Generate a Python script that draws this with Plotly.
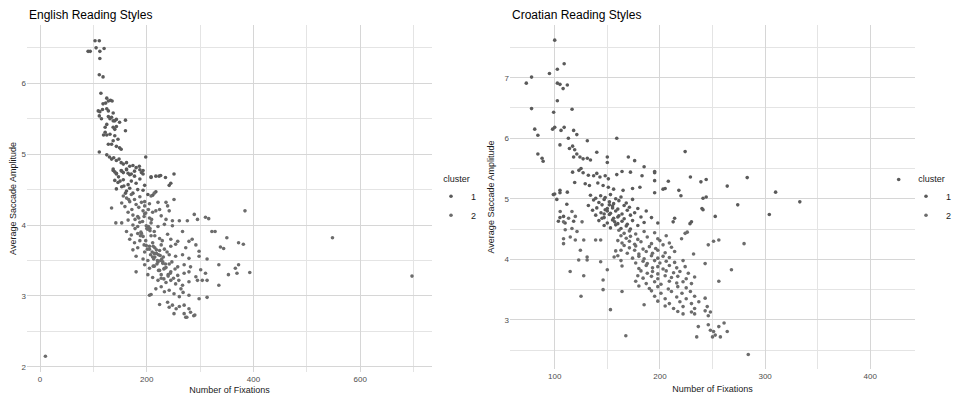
import plotly.graph_objects as go

# ---------------- English reading styles ----------------
en1_x = [90, 103, 111, 94, 105, 112, 120, 112, 111, 118, 114,
         125, 128, 132, 135, 118, 123,
         109, 112, 117, 125, 128, 137, 111, 115,
         128, 131, 134, 137, 140, 143, 149, 160,
         125, 122, 137, 140, 143, 160,
         122, 125, 119, 131, 140, 146, 137,
         128, 134, 143, 149, 152, 111,
         125, 130, 134, 138, 143, 148, 152, 156, 162, 168, 174, 180, 186, 198,
         137, 140, 143, 152, 156, 162, 165, 171, 177, 190, 193,
         208, 217, 223, 226, 235, 251,
         137, 143, 153, 162, 168, 177, 187, 193,
         140, 146, 156, 165, 171, 180, 187, 196, 208, 245, 242,
         143, 153, 162, 168, 174, 183, 193, 202, 211, 217,
         160, 157, 150, 147]
en1_y = [6.45, 6.6, 6.6, 6.45, 6.5, 6.45, 6.49, 6.35, 6.12, 6.09, 5.86,
         5.79, 5.75, 5.76, 5.75, 5.71, 5.72,
         5.61, 5.6, 5.63, 5.64, 5.61, 5.58, 5.54, 5.5,
         5.53, 5.5, 5.52, 5.47, 5.47, 5.49, 5.45, 5.48,
         5.42, 5.38, 5.38, 5.35, 5.39, 5.33,
         5.31, 5.27, 5.27, 5.28, 5.26, 5.21, 5.19,
         5.14, 5.14, 5.11, 5.09, 5.07, 5.03,
         4.99, 4.96, 4.93, 4.95, 4.91, 4.93, 4.88, 4.86, 4.88, 4.83, 4.84, 4.81, 4.83, 4.96,
         4.79, 4.75, 4.72, 4.77, 4.74, 4.78, 4.73, 4.72, 4.69, 4.74, 4.77,
         4.67, 4.69, 4.69, 4.7, 4.67, 4.72,
         4.77, 4.73, 4.76, 4.79, 4.71, 4.76, 4.78, 4.72,
         4.63, 4.6, 4.64, 4.57, 4.62, 4.59, 4.65, 4.56, 4.68, 4.59, 4.56,
         4.51, 4.54, 4.48, 4.52, 4.45, 4.5, 4.49, 4.43, 4.42, 4.47,
         4.45, 4.55, 4.62, 4.68]

en2_x = [156, 162, 171, 177, 187, 196, 208, 214, 251, 236, 239,
         134, 153, 159, 168, 180, 190, 196, 205, 217, 224, 242, 221, 193,
         165, 174, 183, 196, 205, 211, 227, 236, 248, 261, 276, 289, 295, 310, 316, 384,
         153, 165, 174, 187, 199, 208, 221, 233, 248, 267, 214, 202, 142,
         162, 171, 183, 193, 208, 224, 239, 245, 258, 279, 285, 322, 328, 350, 372, 381,
         168, 177, 187, 199, 211, 227, 245, 254, 273, 292, 298, 338, 344,
         174, 183, 196, 205, 214, 224, 233, 242, 254, 267, 279, 298, 313, 335, 366, 372, 393,
         180, 193, 202, 211, 221, 230, 242, 258, 270, 282, 353, 369,
         180, 196, 205, 214, 224, 233, 245, 258, 270, 279, 292, 301, 310, 335,
         202, 211, 221, 227, 236, 245, 254, 267, 279, 295, 304, 313,
         205, 208, 217, 227, 233, 242, 251, 261, 279, 298, 313,
         224, 239, 242, 248, 255, 261, 270, 279, 282, 288, 251, 273, 275, 290, 270,
         215, 220, 225, 230, 210, 218, 228, 235, 212, 222, 232, 240, 205, 215,
         190, 198, 206, 185, 195, 203, 178, 188,
         185, 192, 200, 206, 212, 218, 222, 226, 231, 236, 240, 244, 250,
         198, 203, 209, 215, 229, 238, 247, 253, 260, 264, 268, 227, 232,
         219, 213, 207, 201, 195, 189, 183, 178, 172, 166,
         548, 697, 10]
en2_y = [4.41, 4.38, 4.43, 4.36, 4.4, 4.33, 4.41, 4.45, 4.36, 4.32, 4.27,
         4.24, 4.31, 4.26, 4.33, 4.29, 4.32, 4.27, 4.3, 4.2, 4.22, 4.2, 4.32, 4.2,
         4.18, 4.14, 4.12, 4.16, 4.1, 4.18, 4.13, 4.08, 4.06, 4.06, 4.06, 4.15, 4.08, 4.11, 4.09, 4.2,
         4.03, 4.07, 4.0, 4.04, 3.99, 4.03, 3.98, 4.01, 3.99, 3.91, 3.91, 3.94, 4.03,
         3.91, 3.86, 3.88, 3.84, 3.85, 3.81, 3.87, 3.8, 3.77, 3.77, 3.8, 3.91, 3.91, 3.82, 3.75, 3.73,
         3.8, 3.75, 3.78, 3.71, 3.75, 3.72, 3.7, 3.73, 3.68, 3.72, 3.63, 3.69, 3.67,
         3.65, 3.68, 3.62, 3.66, 3.6, 3.64, 3.66, 3.58, 3.56, 3.58, 3.53, 3.56, 3.52, 3.44, 3.39, 3.44, 3.33,
         3.56, 3.52, 3.5, 3.55, 3.48, 3.46, 3.45, 3.41, 3.44, 3.41, 3.3, 3.32,
         3.34, 3.44, 3.39, 3.42, 3.36, 3.39, 3.34, 3.29, 3.32, 3.34, 3.27, 3.37, 3.32, 3.15,
         3.3, 3.26, 3.22, 3.25, 3.19, 3.22, 3.17, 3.15, 3.2, 3.22, 3.22, 3.22,
         3.01, 3.02, 3.1, 3.13, 3.06, 3.08, 3.03, 2.99, 3.01, 2.96, 2.98,
         2.88, 2.91, 2.84, 2.87, 2.82, 2.85, 2.87, 2.82, 2.77, 2.72, 2.75, 2.7, 2.7, 2.73, 2.75,
         3.55, 3.5, 3.57, 3.48, 3.62, 3.6, 3.52, 3.45, 3.42, 3.36, 3.38, 3.3, 3.7, 3.68,
         3.88, 3.78, 3.95, 4.1, 4.12, 3.98, 3.95, 3.85,
         4.25, 4.05, 3.95, 3.92, 3.7, 3.65, 3.58, 3.5, 3.55, 3.4, 3.28, 3.32, 3.25,
         4.17, 4.22, 4.08, 3.85, 3.78, 3.62, 3.48, 3.38, 3.22, 3.1, 3.05, 3.3, 3.24,
         3.45, 3.52, 3.58, 3.66, 3.72, 3.9, 3.98, 4.08, 4.22, 4.36,
         3.82, 3.28, 2.15]

# ---------------- Croatian reading styles ----------------
hr1_x = [100, 109, 102.5, 95, 78, 73, 102.5, 105, 108, 112, 102.5, 78, 99, 116.5,
         81, 84, 98, 100, 106, 109, 118, 121, 131, 159, 105, 113, 117, 119, 114,
         84, 88, 89, 121, 124, 127, 131, 118, 134, 140, 150, 150, 170, 176, 185,
         125, 123, 117, 127, 132, 137, 140, 143, 148, 151, 159, 164, 172, 183, 195,
         119, 129, 133, 141, 146, 151, 156, 165, 174, 181, 195, 195, 205, 100, 105, 112,
         427, 310, 283, 264, 244, 239, 229, 224, 218, 220, 208, 203, 195,
         333, 304, 274, 244, 240,
         98.7, 102, 105, 108.4, 111.5, 103.5, 109.9, 118, 105,
         134, 139, 143.7, 148, 153, 158, 163,
         137, 142, 147, 152, 156, 161, 168, 174,
         132, 140, 145, 150, 155, 160, 166, 171, 179,
         136, 144, 148, 153, 158, 164, 169, 176, 187,
         139, 147, 152, 156, 161, 166, 172, 182, 192,
         142, 150, 155, 160, 164, 169, 174, 185, 198,
         147, 153, 158, 163, 168, 172, 179,
         150, 155, 147, 160, 152, 157, 145,
         241, 252.6, 230, 228.6, 214, 212.6, 241]
hr1_y = [7.62, 7.23, 7.14, 7.07, 7.01, 6.91, 6.91, 6.89, 6.82, 6.88, 6.62, 6.49, 6.43, 6.48,
         6.15, 6.05, 6.15, 6.18, 6.13, 6.18, 6.13, 6.06, 5.96, 6.0, 5.89, 6.0, 5.87, 5.81, 5.83,
         5.74, 5.67, 5.62, 5.74, 5.69, 5.66, 5.67, 5.69, 5.64, 5.77, 5.69, 5.6, 5.69, 5.63, 5.53,
         5.5, 5.47, 5.44, 5.43, 5.39, 5.38, 5.42, 5.36, 5.38, 5.33, 5.4, 5.45, 5.44, 5.38, 5.43,
         5.27, 5.25, 5.22, 5.26, 5.22, 5.19, 5.16, 5.14, 5.17, 5.19, 5.3, 5.1, 5.17, 5.08, 5.14, 5.11,
         5.32, 5.11, 5.35, 5.21, 5.32, 5.28, 5.36, 5.78, 5.14, 5.05, 5.29, 5.16, 5.45,
         4.95, 4.74, 4.9, 5.03, 4.84,
         5.07, 4.99, 5.1, 4.71, 4.91, 4.63, 4.6, 4.63, 4.69,
         5.06, 5.01, 5.05, 5.02, 5.07, 5.0, 5.03,
         4.98, 4.94, 4.99, 4.95, 4.92, 4.97, 4.93, 4.99,
         4.89, 4.85, 4.9, 4.84, 4.88, 4.83, 4.89, 4.86, 4.84,
         4.81, 4.77, 4.82, 4.76, 4.8, 4.75, 4.81, 4.77, 4.8,
         4.73, 4.69, 4.74, 4.68, 4.72, 4.67, 4.73, 4.7, 4.69,
         4.64, 4.6, 4.65, 4.59, 4.63, 4.58, 4.64, 4.61, 4.6,
         4.56, 4.52, 4.57, 4.51, 4.55, 4.5, 4.56,
         4.8, 4.85, 4.75, 4.7, 4.9, 4.62, 4.68,
         4.82, 4.71, 4.62, 4.59, 4.68, 4.62, 5.01]

hr2_x = [280, 268, 284, 256, 246, 251, 256,
         236.5, 246, 248, 251, 252.6, 256, 261, 257.5, 264, 250, 235, 167.6, 153, 125, 127.6, 114.7,
         146, 146, 164, 185,
         105.2, 108.4, 113.2, 116.4, 119.6, 126, 110, 116.4, 121.2, 108.4, 108.4, 114.8, 119.6,
         127.6, 138.9, 143.7, 124.4, 130.8, 130.8, 122.8, 143.7, 150, 156.5, 163,
         161, 166, 171, 177, 185, 195,
         163, 168, 172, 179, 188, 198, 206,
         160, 164, 171, 176, 182, 192, 200, 209,
         166, 171, 177, 184, 190, 196, 203, 211,
         158, 169, 176, 180, 187, 193, 198, 205, 214,
         160, 174, 180, 185, 192, 198, 203, 209,
         163, 177, 184, 188, 195, 200, 206, 214, 222,
         164, 180, 187, 193, 198, 203, 209, 216, 224,
         182, 188, 193, 198, 206, 213, 219, 227,
         179, 184, 192, 198, 205, 211, 217, 225, 233,
         177, 187, 195, 201, 209, 216, 222, 230,
         180, 190, 198, 208, 217, 225,
         192, 201, 211, 221, 229,
         195, 205, 216, 225, 233, 243,
         198, 209, 219, 230, 237,
         205, 213, 222, 233, 245,
         217, 222, 230, 233, 248,
         243, 232, 224, 220.6, 243, 246, 226]
hr2_y = [4.26, 3.83, 2.43, 3.64, 4.24, 4.3, 4.32,
         2.89, 2.92, 2.83, 2.81, 2.75, 2.89, 2.95, 2.72, 2.81, 2.72, 2.72, 2.74, 3.17, 3.39, 3.73, 3.8,
         3.5, 3.66, 3.47, 3.25,
         4.79, 4.62, 4.68, 4.79, 4.71, 4.62, 4.49, 4.51, 4.46, 4.34, 4.26, 4.37, 4.32,
         4.32, 4.32, 4.32, 4.15, 4.04, 3.99, 3.99, 3.96, 3.83, 4.04, 4.15,
         4.48, 4.43, 4.47, 4.42, 4.46, 4.44,
         4.39, 4.35, 4.38, 4.33, 4.37, 4.34, 4.39,
         4.31, 4.27, 4.3, 4.25, 4.29, 4.26, 4.31, 4.27,
         4.23, 4.19, 4.22, 4.17, 4.21, 4.18, 4.24, 4.2,
         4.14, 4.1, 4.15, 4.09, 4.13, 4.1, 4.15, 4.11, 4.13,
         4.06, 4.02, 4.05, 4.01, 4.06, 4.02, 4.05, 4.03,
         3.98, 3.94, 3.97, 3.93, 3.98, 3.94, 3.97, 3.95, 3.98,
         3.89, 3.85, 3.9, 3.86, 3.88, 3.84, 3.9, 3.86, 3.88,
         3.81, 3.77, 3.8, 3.76, 3.81, 3.78, 3.8, 3.77,
         3.73, 3.69, 3.72, 3.68, 3.73, 3.7, 3.72, 3.68, 3.71,
         3.64, 3.6, 3.63, 3.59, 3.64, 3.61, 3.63, 3.6,
         3.56, 3.52, 3.55, 3.51, 3.55, 3.53,
         3.48, 3.44, 3.47, 3.44, 3.47,
         3.39, 3.35, 3.38, 3.35, 3.39, 3.36,
         3.31, 3.27, 3.3, 3.27, 3.3,
         3.23, 3.19, 3.22, 3.19, 3.22,
         3.14, 3.1, 3.13, 3.1, 3.13,
         3.93, 4.09, 4.43, 4.34, 3.15, 3.07, 4.45]

cluster_names = ["1", "2"]
titles = ["English Reading Styles", "Croatian Reading Styles"]
x_title = "Number of Fixations"
y_title = "Average Saccade Amplitude"

FONT = "Liberation Sans, Arial, sans-serif"
C1 = "#5a5a5a"
C2 = "#6c6c6c"
# the page body adds an 8px margin, so the figure is 8px smaller and shifted
OFF = 8
W, H = 961 - OFF, 395 - OFF


def px(p):
    return (p - OFF) / W


def py(p):
    return 1 - (p - OFF) / H


fig = go.Figure()
mk = lambda c: dict(size=3.6, color=c, line=dict(width=0))
fig.add_trace(go.Scatter(x=en1_x, y=en1_y, mode="markers", name=cluster_names[0],
                         marker=mk(C1), xaxis="x", yaxis="y", legend="legend"))
fig.add_trace(go.Scatter(x=en2_x, y=en2_y, mode="markers", name=cluster_names[1],
                         marker=mk(C2), xaxis="x", yaxis="y", legend="legend"))
fig.add_trace(go.Scatter(x=hr1_x, y=hr1_y, mode="markers", name=cluster_names[0],
                         marker=mk(C1), xaxis="x2", yaxis="y2", legend="legend2"))
fig.add_trace(go.Scatter(x=hr2_x, y=hr2_y, mode="markers", name=cluster_names[1],
                         marker=mk(C2), xaxis="x2", yaxis="y2", legend="legend2"))

grid = "#d6d6d6"
mgrid = "#e4e4e4"
tickf = dict(family=FONT, size=8, color="#4d4d4d")
titf = dict(family=FONT, size=9, color="#1a1a1a")


def ax(domain, rng, dtick, mdtick, title, anchor, standoff, lblstand):
    return dict(domain=domain, range=rng, tick0=0, dtick=dtick, showline=False,
                zeroline=False, ticks="", gridcolor=grid, gridwidth=1,
                minor=dict(dtick=mdtick, showgrid=True, gridcolor=mgrid, gridwidth=0.8),
                tickfont=tickf, anchor=anchor, automargin=False,
                ticklabelstandoff=lblstand,
                title=dict(text=title, font=titf, standoff=standoff), fixedrange=True)


legfont = dict(family=FONT, size=9, color="#1a1a1a")
fig.update_layout(
    width=W, height=H, margin=dict(l=0, r=0, t=0, b=0, autoexpand=False),
    paper_bgcolor="white", plot_bgcolor="white",
    font=dict(family=FONT),
    xaxis=ax([px(27), px(432)], [-24.5, 734.5], 200, 100, x_title, "y", 5, 1),
    yaxis=ax([py(372), py(25)], [1.927, 6.822], 1, 0.5, y_title, "x", 8, 0),
    xaxis2=ax([px(510), px(915)], [57.5, 442.5], 100, 50, x_title, "y2", 5, 1),
    yaxis2=ax([py(369), py(25)], [2.19, 7.87], 1, 0.5, y_title, "x2", 8, 0),
    legend=dict(x=px(431), y=py(200), xanchor="left", yanchor="middle",
                title=dict(text="cluster", font=legfont, side="top center"),
                font=legfont, itemwidth=30, bgcolor="rgba(0,0,0,0)", tracegroupgap=0),
    legend2=dict(x=px(906), y=py(200), xanchor="left", yanchor="middle",
                 title=dict(text="cluster", font=legfont, side="top center"),
                 font=legfont, itemwidth=30, bgcolor="rgba(0,0,0,0)", tracegroupgap=0),
    annotations=[
        dict(text=titles[0], x=px(27), y=py(15), xref="paper", yref="paper",
             xanchor="left", yanchor="middle", showarrow=False,
             font=dict(family=FONT, size=12, color="#000000")),
        dict(text=titles[1], x=px(510), y=py(15), xref="paper", yref="paper",
             xanchor="left", yanchor="middle", showarrow=False,
             font=dict(family=FONT, size=12, color="#000000")),
    ],
)

fig.write_html("out.html")
